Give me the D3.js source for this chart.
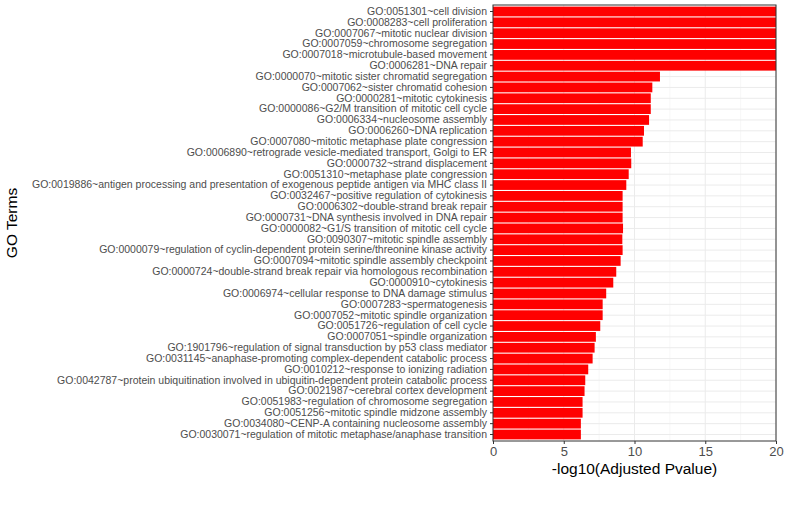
<!doctype html>
<html>
  <style>
    body { margin: 0; background-color: #fff; }
    text { font-family: "Liberation Sans", Arial, sans-serif; }
  </style>
  <body>
  <script src="https://cdn.jsdelivr.net/npm/d3@7"></script>
  <script>
    var width = 786,
        height = 512;

    // GO terms, top to bottom
    var terms = [
      "GO:0051301~cell division",
      "GO:0008283~cell proliferation",
      "GO:0007067~mitotic nuclear division",
      "GO:0007059~chromosome segregation",
      "GO:0007018~microtubule-based movement",
      "GO:0006281~DNA repair",
      "GO:0000070~mitotic sister chromatid segregation",
      "GO:0007062~sister chromatid cohesion",
      "GO:0000281~mitotic cytokinesis",
      "GO:0000086~G2/M transition of mitotic cell cycle",
      "GO:0006334~nucleosome assembly",
      "GO:0006260~DNA replication",
      "GO:0007080~mitotic metaphase plate congression",
      "GO:0006890~retrograde vesicle-mediated transport, Golgi to ER",
      "GO:0000732~strand displacement",
      "GO:0051310~metaphase plate congression",
      "GO:0019886~antigen processing and presentation of exogenous peptide antigen via MHC class II",
      "GO:0032467~positive regulation of cytokinesis",
      "GO:0006302~double-strand break repair",
      "GO:0000731~DNA synthesis involved in DNA repair",
      "GO:0000082~G1/S transition of mitotic cell cycle",
      "GO:0090307~mitotic spindle assembly",
      "GO:0000079~regulation of cyclin-dependent protein serine/threonine kinase activity",
      "GO:0007094~mitotic spindle assembly checkpoint",
      "GO:0000724~double-strand break repair via homologous recombination",
      "GO:0000910~cytokinesis",
      "GO:0006974~cellular response to DNA damage stimulus",
      "GO:0007283~spermatogenesis",
      "GO:0007052~mitotic spindle organization",
      "GO:0051726~regulation of cell cycle",
      "GO:0007051~spindle organization",
      "GO:1901796~regulation of signal transduction by p53 class mediator",
      "GO:0031145~anaphase-promoting complex-dependent catabolic process",
      "GO:0010212~response to ionizing radiation",
      "GO:0042787~protein ubiquitination involved in ubiquitin-dependent protein catabolic process",
      "GO:0021987~cerebral cortex development",
      "GO:0051983~regulation of chromosome segregation",
      "GO:0051256~mitotic spindle midzone assembly",
      "GO:0034080~CENP-A containing nucleosome assembly",
      "GO:0030071~regulation of mitotic metaphase/anaphase transition"
    ];

    // -log10(adjusted p); the first six run past the axis limit
    var values = [
      26, 25, 24, 23, 22, 21,
      11.8, 11.26, 11.15, 11.15, 11.03, 10.67, 10.58, 9.75, 9.77, 9.59,
      9.42, 9.16, 9.16, 9.16, 9.19, 9.14, 9.16, 9.02, 8.71, 8.5,
      8.0, 7.75, 7.75, 7.58, 7.27, 7.18, 7.04, 6.73, 6.52, 6.47,
      6.33, 6.33, 6.21, 6.21
    ];

    var xTicks = [0, 5, 10, 15, 20];
    var xMinor = [2.5, 7.5, 12.5, 17.5];

    var data = terms.map(function (t, i) { return { term: t, value: values[i] }; });

    var margin = { top: 5, right: 10, bottom: 71, left: 493 };
    var pw = width - margin.left - margin.right,
        ph = height - margin.top - margin.bottom;

    var svg = d3.select('body').append('svg')
        .attr('width', width)
        .attr('height', height);

    var g = svg.append('g')
        .attr('transform', 'translate(' + margin.left + ',' + margin.top + ')');

    var x = d3.scaleLinear().domain([0, 20]).range([0, pw]).clamp(true);
    var y = d3.scaleBand().domain(terms).range([0, ph])
        .paddingInner(0.1).paddingOuter(0.15);

    // grid
    g.selectAll('line.minor').data(xMinor).enter().append('line')
        .attr('x1', x).attr('x2', x).attr('y1', 0).attr('y2', ph)
        .attr('stroke', '#f2f2f2').attr('stroke-width', 0.6);
    g.selectAll('line.major').data(xTicks).enter().append('line')
        .attr('x1', x).attr('x2', x).attr('y1', 0).attr('y2', ph)
        .attr('stroke', '#ebebeb').attr('stroke-width', 1);
    g.selectAll('line.hgrid').data(terms).enter().append('line')
        .attr('x1', 0).attr('x2', pw)
        .attr('y1', function (d) { return y(d) + y.bandwidth() / 2; })
        .attr('y2', function (d) { return y(d) + y.bandwidth() / 2; })
        .attr('stroke', '#ebebeb').attr('stroke-width', 1);

    // bars
    g.selectAll('rect.bar').data(data).enter().append('rect')
        .attr('x', 0)
        .attr('y', function (d) { return y(d.term); })
        .attr('width', function (d) { return x(d.value); })
        .attr('height', y.bandwidth())
        .attr('fill', '#ff0000');

    // panel border
    g.append('rect')
        .attr('width', pw).attr('height', ph)
        .attr('fill', 'none').attr('stroke', '#333').attr('stroke-width', 1);

    // y axis
    var yAxis = g.append('g').call(d3.axisLeft(y).tickSize(3).tickPadding(3));
    yAxis.select('.domain').remove();
    yAxis.selectAll('line').attr('stroke', '#333');
    yAxis.selectAll('text').attr('fill', '#4d4d4d')
        .style('font-size', '10.5px').style('font-family', '"Liberation Sans", Arial, sans-serif');

    // x axis
    var xAxis = g.append('g').attr('transform', 'translate(0,' + ph + ')')
        .call(d3.axisBottom(x).tickValues(xTicks).tickSize(3).tickPadding(3));
    xAxis.select('.domain').remove();
    xAxis.selectAll('line').attr('stroke', '#333');
    xAxis.selectAll('text').attr('fill', '#4d4d4d')
        .style('font-size', '13px').style('font-family', '"Liberation Sans", Arial, sans-serif');

    // titles
    svg.append('text')
        .attr('x', margin.left + pw / 2).attr('y', 474)
        .attr('text-anchor', 'middle')
        .style('font-size', '15.5px').attr('fill', '#000')
        .text('-log10(Adjusted Pvalue)');

    svg.append('text')
        .attr('transform', 'translate(17,' + (margin.top + ph / 2) + ') rotate(-90)')
        .attr('text-anchor', 'middle')
        .style('font-size', '15.5px').attr('fill', '#000')
        .text('GO Terms');
  </script>
  </body>
</html>
